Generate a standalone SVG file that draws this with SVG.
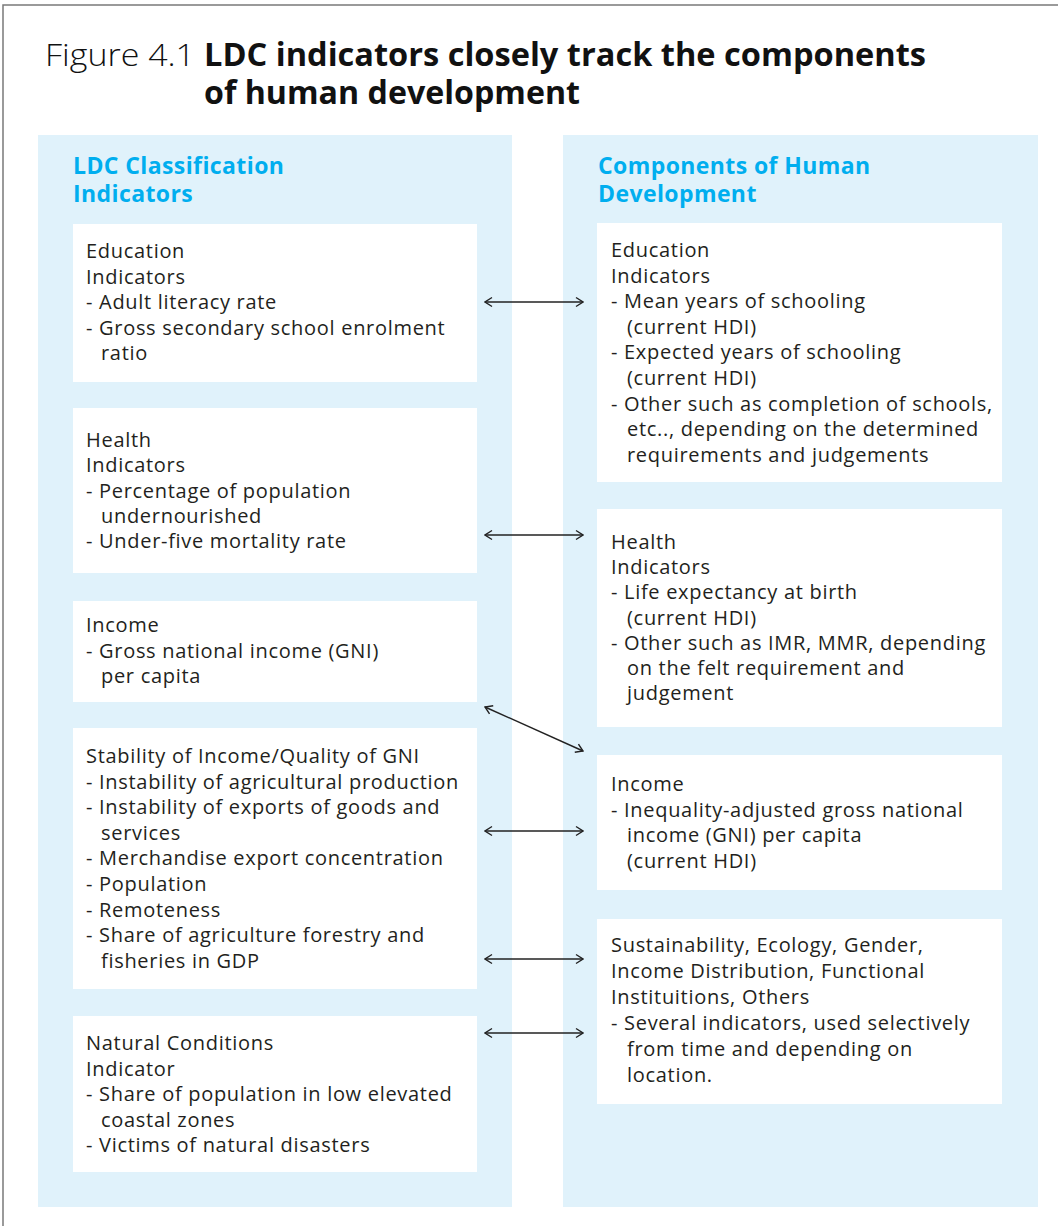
<svg xmlns="http://www.w3.org/2000/svg" width="1058" height="1226" viewBox="0 0 1058 1226">
<style>
.frame{fill:none;stroke:#7a7a7a;stroke-width:1.5}
.panel{fill:#e0f2fb}
.box{fill:#ffffff}
.t{font-family:"Open Sans","Liberation Sans",sans-serif;font-size:20px;letter-spacing:0.7px;fill:#231f20}
.hd{font-family:"Open Sans","Liberation Sans",sans-serif;font-size:23px;letter-spacing:0.4px;font-weight:700;fill:#00aeef}
.ttl{font-family:"Open Sans","Liberation Sans",sans-serif;font-size:32px;fill:#111}
.conn{stroke:#222;stroke-width:1.4;fill:none;marker-start:url(#chev);marker-end:url(#chev)}
</style>
<defs>
<marker id="chev" viewBox="-9 -6 10 12" refX="0" refY="0" markerWidth="10" markerHeight="12" markerUnits="userSpaceOnUse" orient="auto-start-reverse">
<path d="M-7,-4.5 L0,0 L-7,4.5" fill="none" stroke="#222" stroke-width="1.4"/>
</marker>
</defs>
<rect width="1058" height="1226" fill="#fff"/>
<path class="frame" d="M3,1226 V5 H1058"/>
<g id="title">
<text class="ttl" x="45" y="66" font-weight="300" textLength="150" lengthAdjust="spacingAndGlyphs">Figure 4.1</text>
<text class="ttl" font-weight="700"><tspan x="204" y="66" textLength="722" lengthAdjust="spacingAndGlyphs">LDC indicators closely track the components</tspan><tspan x="204" y="104" textLength="376" lengthAdjust="spacingAndGlyphs">of human development</tspan></text>
</g>
<g id="panel-left">
<rect class="panel" x="38" y="135" width="474" height="1072"/>
<text class="hd"><tspan x="73" y="174">LDC Classification</tspan><tspan x="73" y="202">Indicators</tspan></text>
</g>
<g id="panel-right">
<rect class="panel" x="563" y="135" width="475" height="1072"/>
<text class="hd"><tspan x="598" y="174">Components of Human</tspan><tspan x="598" y="202">Development</tspan></text>
</g>
<g id="l-education">
<rect class="box" x="73" y="224" width="404" height="158"/>
<text class="t"><tspan x="86" y="258">Education</tspan><tspan x="86" y="283.5">Indicators</tspan><tspan x="86" y="309">- Adult literacy rate</tspan><tspan x="86" y="334.5">- Gross secondary school enrolment</tspan><tspan x="101" y="360">ratio</tspan></text>
</g>
<g id="l-health">
<rect class="box" x="73" y="408" width="404" height="165"/>
<text class="t"><tspan x="86" y="447">Health</tspan><tspan x="86" y="472.3">Indicators</tspan><tspan x="86" y="497.6">- Percentage of population</tspan><tspan x="101" y="523">undernourished</tspan><tspan x="86" y="548">- Under-five mortality rate</tspan></text>
</g>
<g id="l-income">
<rect class="box" x="73" y="601" width="404" height="101"/>
<text class="t"><tspan x="86" y="632">Income</tspan><tspan x="86" y="657.5">- Gross national income (GNI)</tspan><tspan x="101" y="683">per capita</tspan></text>
</g>
<g id="l-stability">
<rect class="box" x="73" y="728" width="404" height="261"/>
<text class="t"><tspan x="86" y="763">Stability of Income/Quality of GNI</tspan><tspan x="86" y="788.6">- Instability of agricultural production</tspan><tspan x="86" y="814.2">- Instability of exports of goods and</tspan><tspan x="101" y="839.8">services</tspan><tspan x="86" y="865.4">- Merchandise export concentration</tspan><tspan x="86" y="891">- Population</tspan><tspan x="86" y="916.6">- Remoteness</tspan><tspan x="86" y="942.2">- Share of agriculture forestry and</tspan><tspan x="101" y="967.8">fisheries in GDP</tspan></text>
</g>
<g id="l-natural">
<rect class="box" x="73" y="1016" width="404" height="156"/>
<text class="t"><tspan x="86" y="1050">Natural Conditions</tspan><tspan x="86" y="1075.5">Indicator</tspan><tspan x="86" y="1101">- Share of population in low elevated</tspan><tspan x="101" y="1126.5">coastal zones</tspan><tspan x="86" y="1152">- Victims of natural disasters</tspan></text>
</g>
<g id="r-education">
<rect class="box" x="597" y="223" width="405" height="259"/>
<text class="t"><tspan x="611" y="257">Education</tspan><tspan x="611" y="282.6">Indicators</tspan><tspan x="611" y="308.2">- Mean years of schooling</tspan><tspan x="627" y="333.8">(current HDI)</tspan><tspan x="611" y="359.4">- Expected years of schooling</tspan><tspan x="627" y="385">(current HDI)</tspan><tspan x="611" y="410.6">- Other such as completion of schools,</tspan><tspan x="627" y="436.2">etc.., depending on the determined</tspan><tspan x="627" y="461.8">requirements and judgements</tspan></text>
</g>
<g id="r-health">
<rect class="box" x="597" y="509" width="405" height="218"/>
<text class="t"><tspan x="611" y="549">Health</tspan><tspan x="611" y="574.2">Indicators</tspan><tspan x="611" y="599.4">- Life expectancy at birth</tspan><tspan x="627" y="624.6">(current HDI)</tspan><tspan x="611" y="649.8">- Other such as IMR, MMR, depending</tspan><tspan x="627" y="675">on the felt requirement and</tspan><tspan x="627" y="700.2">judgement</tspan></text>
</g>
<g id="r-income">
<rect class="box" x="597" y="755" width="405" height="135"/>
<text class="t"><tspan x="611" y="791">Income</tspan><tspan x="611" y="816.5">- Inequality-adjusted gross national</tspan><tspan x="627" y="842">income (GNI) per capita</tspan><tspan x="627" y="867.5">(current HDI)</tspan></text>
</g>
<g id="r-sustainability">
<rect class="box" x="597" y="919" width="405" height="185"/>
<text class="t"><tspan x="611" y="952">Sustainability, Ecology, Gender,</tspan><tspan x="611" y="978">Income Distribution, Functional</tspan><tspan x="611" y="1004">Instituitions, Others</tspan><tspan x="611" y="1030">- Several indicators, used selectively</tspan><tspan x="627" y="1056">from time and depending on</tspan><tspan x="627" y="1082">location.</tspan></text>
</g>
<g id="connectors">
<line class="conn" x1="485" y1="302" x2="583" y2="302"/>
<line class="conn" x1="485" y1="535" x2="583" y2="535"/>
<line class="conn" x1="485" y1="707" x2="583" y2="751"/>
<line class="conn" x1="485" y1="831" x2="583" y2="831"/>
<line class="conn" x1="485" y1="959" x2="583" y2="959"/>
<line class="conn" x1="485" y1="1033" x2="583" y2="1033"/>
</g>
</svg>
